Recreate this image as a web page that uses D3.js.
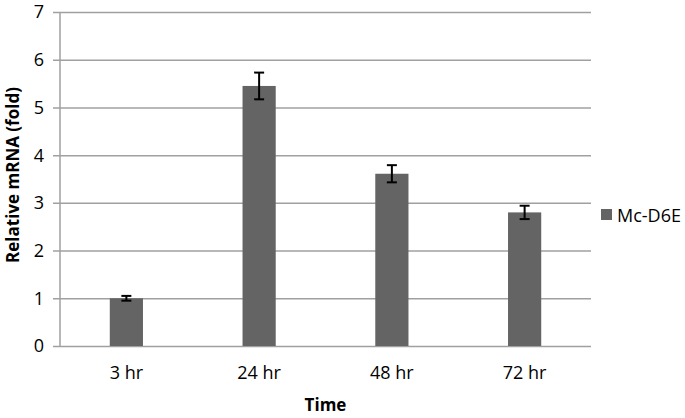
<!DOCTYPE html>
<html><head><meta charset="utf-8">
<script src="https://cdn.jsdelivr.net/npm/d3@7"></script>
<style>body{margin:0;background:#fff}svg{display:block}text{font-family:"Open Sans",sans-serif}</style>
</head><body><svg id="c" width="685" height="418"></svg>
<script>
const categories = ["3 hr","24 hr","48 hr","72 hr"];
const values = [1.0, 5.45, 3.61, 2.80];
const errors = [0.05, 0.28, 0.18, 0.14];
const yTicks = [0,1,2,3,4,5,6,7];
const seriesName = "Mc-D6E";

const svg = d3.select("#c");
const L=60, R=591, T=12, B=346;
const x = d3.scaleBand().domain(categories).range([L,R]).paddingInner(0.75).paddingOuter(0.375);
const y = d3.scaleLinear().domain([0,7]).range([B,T]);

// gridlines
svg.append("g").selectAll("line").data(yTicks).join("line")
  .attr("x1",L-7).attr("x2",R).attr("y1",d=>y(d)+0.5).attr("y2",d=>y(d)+0.5)
  .attr("stroke","#a0a0a0").attr("stroke-width",1.5);
// y axis line
svg.append("line").attr("x1",L).attr("x2",L).attr("y1",T).attr("y2",B)
  .attr("stroke","#a0a0a0").attr("stroke-width",1.5);
// tick labels
svg.append("g").selectAll("text").data(yTicks).join("text")
  .attr("x",L-16).attr("y",d=>y(d)).attr("dy","0.36em").attr("text-anchor","end")
  .attr("font-size",18).attr("fill","#000").text(d=>d);

// bars
svg.append("g").selectAll("rect").data(values).join("rect")
  .attr("x",(d,i)=>x(categories[i])).attr("width",x.bandwidth())
  .attr("y",d=>y(d)).attr("height",d=>B-y(d)).attr("fill","#646464");

// error bars
const eg = svg.append("g").attr("stroke","#000").attr("stroke-width",2);
values.forEach((v,i)=>{
  const cx = x(categories[i])+x.bandwidth()/2;
  eg.append("line").attr("x1",cx).attr("x2",cx).attr("y1",y(v+errors[i])).attr("y2",y(v-errors[i]));
  eg.append("line").attr("x1",cx-5).attr("x2",cx+5).attr("y1",y(v+errors[i])).attr("y2",y(v+errors[i]));
  eg.append("line").attr("x1",cx-5).attr("x2",cx+5).attr("y1",y(v-errors[i])).attr("y2",y(v-errors[i]));
});

// x labels
svg.append("g").selectAll("text").data(categories).join("text")
  .attr("x",d=>x(d)+x.bandwidth()/2).attr("y",379).attr("text-anchor","middle")
  .attr("font-size",18).attr("fill","#000").text(d=>d);

// axis titles
svg.append("text").attr("x",(L+R)/2).attr("y",411).attr("text-anchor","middle")
  .attr("font-size",17).attr("font-weight","bold").text("Time");
svg.append("text").attr("transform",`translate(18.5,175) rotate(-90)`).attr("text-anchor","middle")
  .attr("font-size",17).attr("font-weight","bold").text("Relative mRNA (fold)");

// legend
svg.append("rect").attr("x",601).attr("y",209).attr("width",11).attr("height",11).attr("fill","#646464");
svg.append("text").attr("x",617).attr("y",221.5).attr("font-size",18).text(seriesName);
</script></body></html>
